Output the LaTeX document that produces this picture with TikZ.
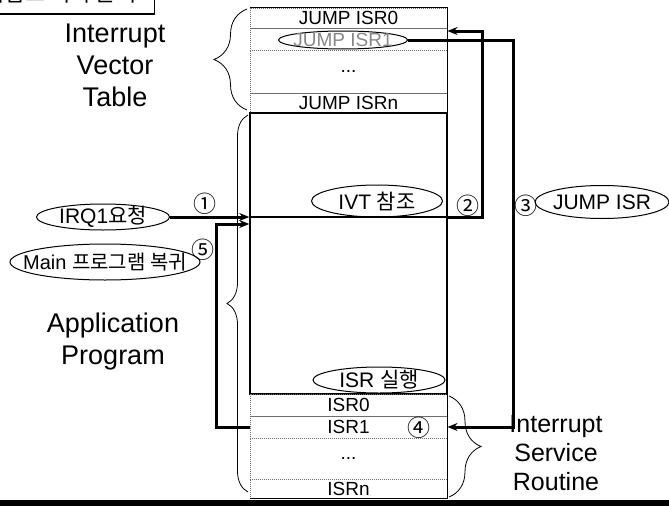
\documentclass[tikz,border=0pt]{standalone}
\usepackage{fontspec}
\setmainfont{Liberation Sans}
\newfontfamily\kr{Noto Sans CJK KR}
\usepackage{tikz}
\usetikzlibrary{arrows.meta, positioning, calc, shapes.geometric, decorations.pathreplacing}
\usepackage{xcolor}
\definecolor{dotgray}{RGB}{110,110,110}
\definecolor{dimtext}{RGB}{135,135,135}

\tikzset{
  cell/.style={draw=dotgray, densely dotted, line width=1pt, minimum width=197pt, inner sep=0pt, font=\fontsize{19}{22}\selectfont},
  oval/.style 2 args={ellipse, draw, line width=1pt, inner sep=0pt, minimum width=#1, minimum height=#2},
  otext/.style={inner sep=0pt, font=\fontsize{21}{24}\selectfont},
  num/.style={inner sep=0pt, font=\kr\fontsize{23}{26}\selectfont},
  biglbl/.style={align=center, font=\fontsize{27}{32}\selectfont},
  flow/.style={line width=3pt, -{Stealth[length=10pt,width=8pt]}},
  brc/.style={decorate, decoration={brace, amplitude=#1}, line width=0.8pt},
}

\begin{document}
\begin{tikzpicture}[x=1pt, y=-1pt]
  \useasboundingbox (0,0) rectangle (669,506);
  \clip (0,0) rectangle (669,506);

  % title (cut at the top)
  \node[draw, line width=1.5pt, anchor=south east, inner xsep=18pt, inner ysep=4pt, text depth=8pt,
        font=\kr\fontsize{22}{24}\selectfont] (title) at (155,14.5) {인터럽트 처리 순서};

  % memory column
  \node[cell, minimum height=20pt] (ivt0) at (348.5,18) {JUMP ISR0};
  \node[cell, minimum height=22pt] (ivt1) at (348.5,39) {};
  \node[cell, minimum height=43pt] (ivtd) at (348.5,71.5) {...};
  \node[cell, minimum height=20pt] (ivtn) at (348.5,103) {JUMP ISRn};
  \node[draw, line width=1.5pt, minimum width=197pt, minimum height=281pt, inner sep=0pt] (app) at (348.5,253.5) {};
  \node[cell, minimum height=22pt] (isr0) at (348.5,405) {ISR0};
  \node[cell, minimum height=22pt] (isr1) at (348.5,427) {ISR1};
  \node[cell, minimum height=41pt] (isrd) at (348.5,458.5) {...};
  \node[cell, minimum height=19pt] (isrn) at (348.5,488.5) {ISRn};
  \draw[line width=1.5pt] (ivt0.north west) -- (ivt0.north east) -- (isrn.south east) -- (isrn.south west);

  % braces and labels
  \draw[brc=33pt] (247,110) -- (247,9);
  \draw[brc=21pt] (248,492) -- (248,115);
  \draw[brc=32pt] (449,396) -- (449,497);
  \node[biglbl] (ivtlbl) at (115,65) {Interrupt\\Vector\\Table};
  \node[biglbl] (applbl) at (113,342) {Application\\Program};
  \node[biglbl, font=\fontsize{25}{29}\selectfont] (isrlbl) at (556,453) {Interrupt\\Service\\Routine};

  % ovals
  \node[oval={133pt}{26pt}] (irq) at (103,217) {};
  \node[otext] (irqt) at (irq) {IRQ1{\kr 요청}};
  \node[oval={190pt}{36pt}] (main) at (105,262) {};
  \node[otext, font=\fontsize{20}{24}\selectfont] (maint) at (main) {Main {\kr 프로그램 복귀}};
  \node[oval={131pt}{32pt}] (ivtref) at (377,201) {};
  \node[otext] (ivtreft) at (ivtref) {IVT {\kr 참조}};
  \node[oval={134pt}{33pt}] (jmp) at (602,202) {};
  \node[otext] (jmpt) at (jmp) {JUMP ISR};
  \node[oval={132pt}{26pt}] (exec) at (379,380) {};
  \node[otext] (exect) at (exec) {ISR {\kr 실행}};
  \node[oval={129pt}{18pt}] (jmp1) at (343,40) {};
  \node[otext, dimtext, font=\fontsize{19}{22}\selectfont] (jmp1t) at (jmp1) {JUMP ISR1};

  % step numbers
  \node[num] (n1) at (205,204) {①};
  \node[num] (n2) at (468,206) {②};
  \node[num] (n3) at (526,206) {③};
  \node[num] (n4) at (419,428) {④};
  \node[num] (n5) at (203,250) {⑤};

  % flow
  \coordinate (bus2) at (482,31);
  \coordinate (bus3) at (513,0);
  \coordinate (bus5) at (216,224);
  \draw[flow] (irq) -- (irq -| app.west);
  \draw[line width=1.5pt] (irq -| app.west) -- (irq -| app.east);
  \draw[flow] (irq -| app.east) -| (bus2) -- (bus2 -| ivt1.east);
  \draw[flow] (jmp1) -- (jmp1 -| bus3) |- (isr1.east);
  \draw[flow] (isr1.west) -| (bus5) -- (bus5 -| app.west);

  \fill (0,500) rectangle (669,506);
\end{tikzpicture}
\end{document}
